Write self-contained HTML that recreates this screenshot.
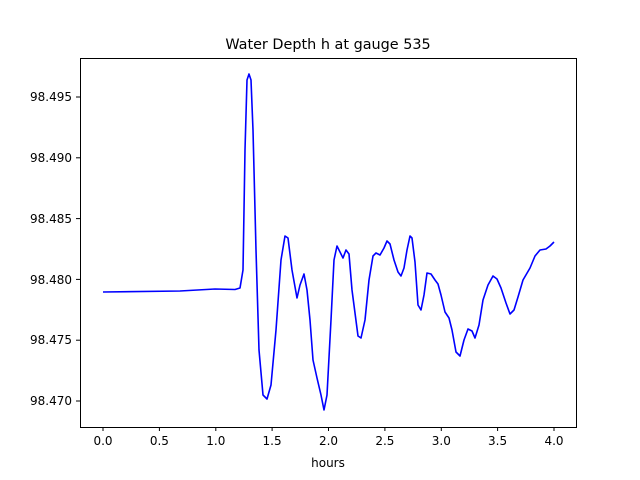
<!DOCTYPE html>
<html><head><style>body{margin:0;background:#fff}svg{display:block}text{font-family:"DejaVu Sans","Liberation Sans",sans-serif;fill:#000}</style></head>
<body>
<svg width="640" height="480" viewBox="0 0 640 480" xmlns="http://www.w3.org/2000/svg">
<rect width="640" height="480" fill="#fff"/>
<text x="328" y="49" font-size="14.4" text-anchor="middle">Water Depth h at gauge 535</text>
<polyline fill="none" stroke="#0000ff" stroke-width="1.6" stroke-linejoin="round" points="103,292 180,291 215,289 235,289.5 240,288 243,270 245,150 247,80 249,74 251,80 253,130 256,250 259,350 263,395 267,399 271,385 276,330 281,260 285,236 288,238 292,270 297,298 300,285 304,274 307,290 310,320 313,360 317,378 321,395 324,410 327,395 331,320 334,260 337,246 340,252 343,258 346,250 349,254 352,290 358,336 361,338 365,320 369,280 373,256 376,253 380,255 384,248 387,241 390,244 394,260 398,272 401,276 404,268 407,250 410,236 412,238 415,262 418,305 421,310 424,295 427,273 431,274 435,280 438,284 441,295 445,312 449,318 452,330 456,352 460,356 464,340 468,329 472,331 475,338 479,325 483,300 488,285 493,276 497,279 501,288 506,303 510,314 514,310 518,297 523,280 530,268 535,256 540,250 546,249 550,246 554,242"/>
<rect x="80.5" y="58.5" width="496" height="369" fill="none" stroke="#000" stroke-width="1"/>
<g stroke="#000" stroke-width="1">
<line x1="103" y1="427" x2="103" y2="431"/><line x1="159.4" y1="427" x2="159.4" y2="431"/><line x1="215.8" y1="427" x2="215.8" y2="431"/><line x1="272.1" y1="427" x2="272.1" y2="431"/><line x1="328.5" y1="427" x2="328.5" y2="431"/><line x1="384.9" y1="427" x2="384.9" y2="431"/><line x1="441.3" y1="427" x2="441.3" y2="431"/><line x1="497.6" y1="427" x2="497.6" y2="431"/><line x1="554" y1="427" x2="554" y2="431"/>
<line x1="76" y1="97" x2="80" y2="97"/><line x1="76" y1="157.8" x2="80" y2="157.8"/><line x1="76" y1="218.6" x2="80" y2="218.6"/><line x1="76" y1="279.4" x2="80" y2="279.4"/><line x1="76" y1="340.2" x2="80" y2="340.2"/><line x1="76" y1="401" x2="80" y2="401"/>
</g>
<g font-size="12" text-anchor="middle">
<text x="103" y="445">0.0</text><text x="159.4" y="445">0.5</text><text x="215.8" y="445">1.0</text><text x="272.1" y="445">1.5</text><text x="328.5" y="445">2.0</text><text x="384.9" y="445">2.5</text><text x="441.3" y="445">3.0</text><text x="497.6" y="445">3.5</text><text x="554" y="445">4.0</text>
<text x="328" y="467">hours</text>
</g>
<g font-size="12" text-anchor="end">
<text x="72" y="101">98.495</text><text x="72" y="162">98.490</text><text x="72" y="223">98.485</text><text x="72" y="284">98.480</text><text x="72" y="344">98.475</text><text x="72" y="405">98.470</text>
</g>
</svg>
</body></html>
